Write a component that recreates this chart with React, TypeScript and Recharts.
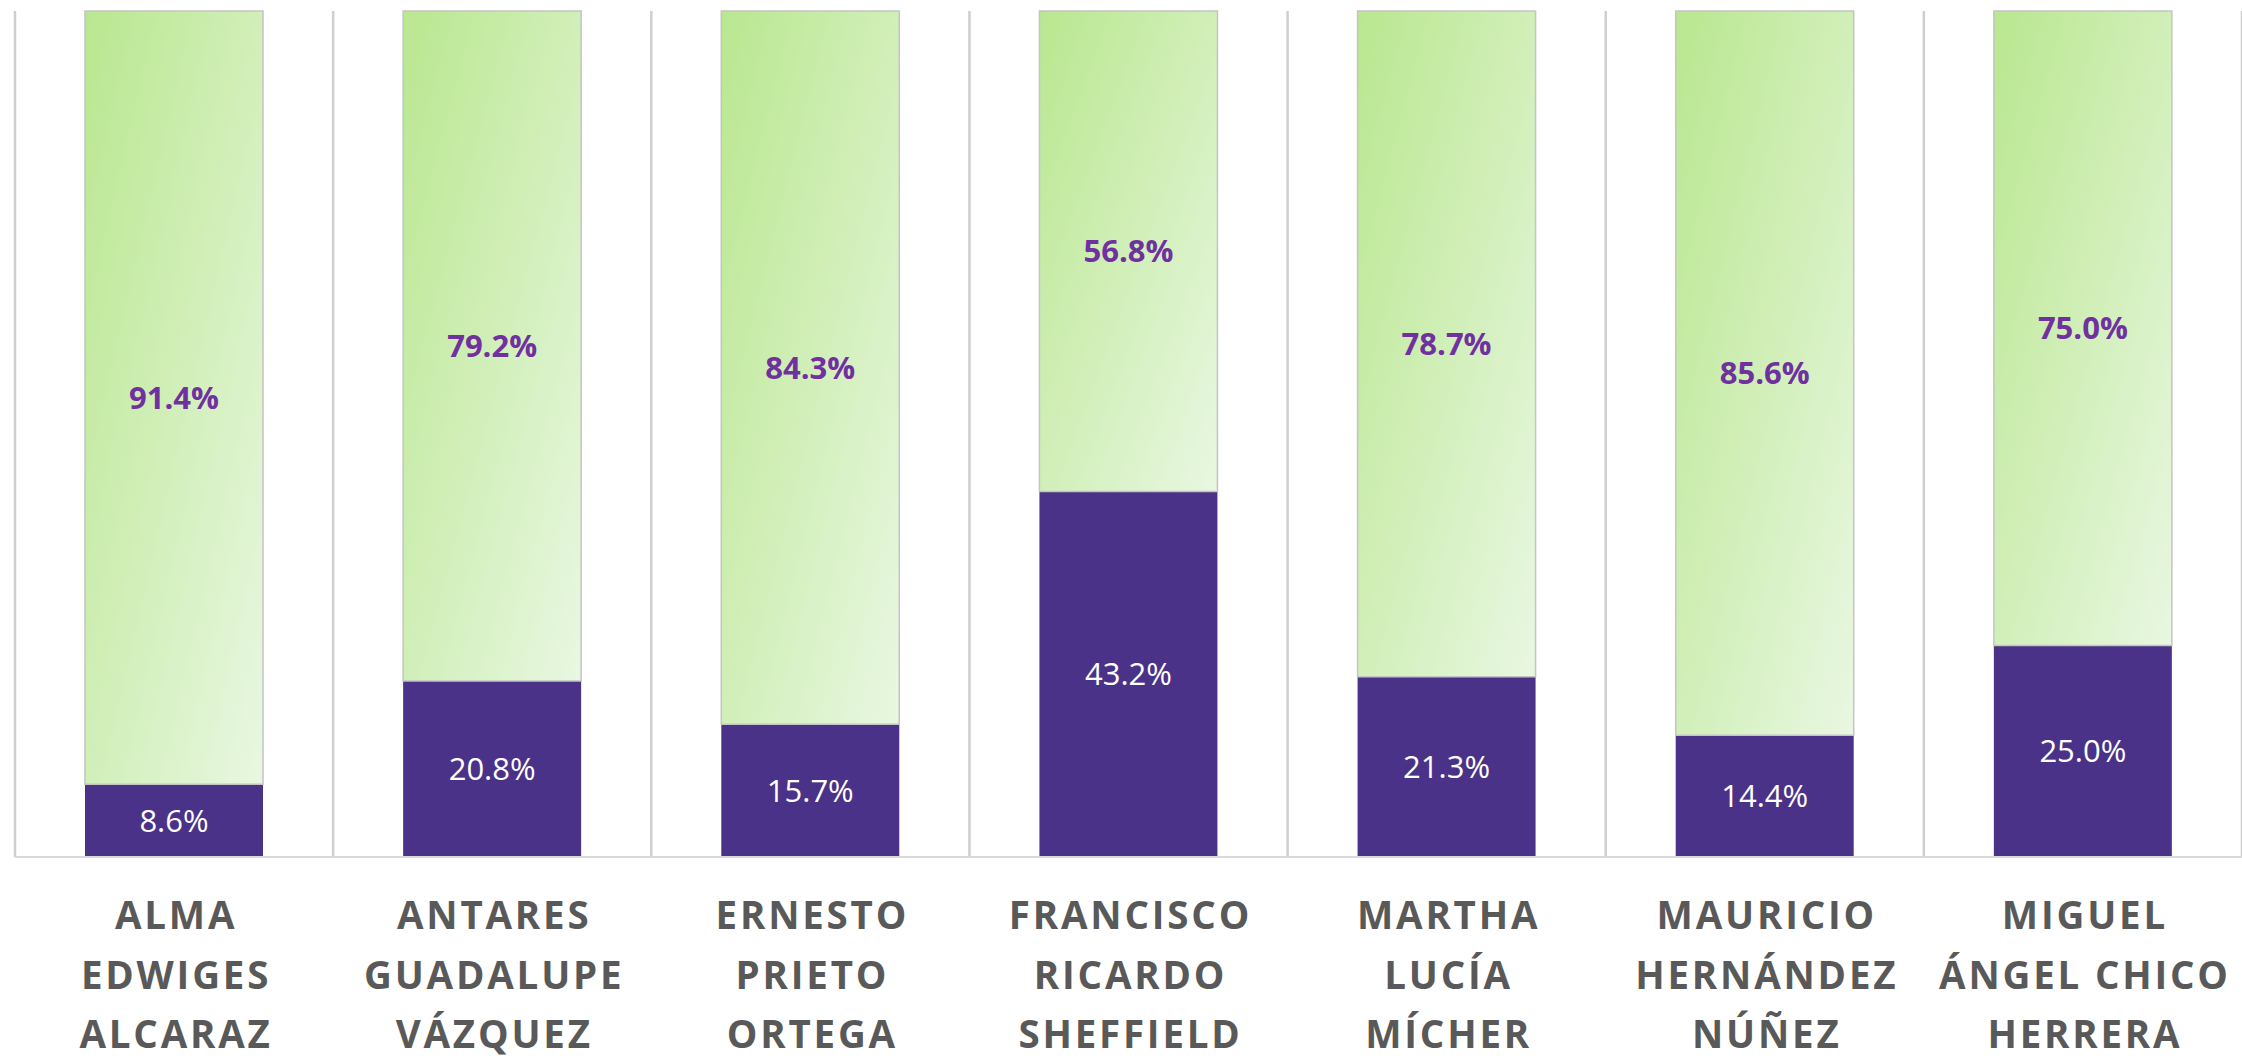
import { BarChart, Bar, XAxis, YAxis, CartesianGrid, LabelList } from 'recharts'

const nombres = [
  'ALMA\nEDWIGES\nALCARAZ',
  'ANTARES\nGUADALUPE\nVÁZQUEZ',
  'ERNESTO\nPRIETO\nORTEGA',
  'FRANCISCO\nRICARDO\nSHEFFIELD',
  'MARTHA\nLUCÍA\nMÍCHER',
  'MAURICIO\nHERNÁNDEZ\nNÚÑEZ',
  'MIGUEL\nÁNGEL CHICO\nHERRERA',
]
const avance = [8.6, 20.8, 15.7, 43.2, 21.3, 14.4, 25.0]
const pendiente = [91.4, 79.2, 84.3, 56.8, 78.7, 85.6, 75.0]

const data = nombres.map((n, i) => ({ nombre: n, avance: avance[i], pendiente: pendiente[i] }))

const fmtPct = (v: any) => `${Number(v).toFixed(1)}%`

const NameTick = ({ x, y, payload }: any) => {
  const lines = String(payload.value).split('\n')
  return (
    <text
      x={x}
      y={y}
      textAnchor="middle"
      fill="#595959"
      fontFamily="Open Sans"
      fontWeight={700}
      fontSize={38.5}
      letterSpacing={2.8}
    >
      {lines.map((l, i) => (
        <tspan key={i} x={x + 2} y={y + 72 + i * 59.5}>
          {l}
        </tspan>
      ))}
    </text>
  )
}

// separators sit between the categories, not on the ticks
const dividers = ({ offset }: any) =>
  Array.from({ length: nombres.length + 1 }, (_, i) => offset.left + (i * offset.width) / nombres.length)

export default function App() {
  return (
    <div style={{ width: 2242, height: 1056, background: '#fff' }}>
      <style>{'body{margin:0}'}</style>
      <BarChart
        width={2242}
        height={1056}
        data={data}
        margin={{ top: 11, right: 0, left: 15, bottom: 0 }}
        barSize={178}
      >
        <defs>
          <linearGradient id="verde" x1="0" y1="0" x2="1" y2="1">
            <stop offset="0%" stopColor="#B9E78F" />
            <stop offset="100%" stopColor="#E9F7E2" />
          </linearGradient>
        </defs>
        <CartesianGrid
          horizontal={false}
          stroke="#CFCFCF"
          strokeWidth={2.5}
          verticalCoordinatesGenerator={dividers}
        />
        <XAxis
          dataKey="nombre"
          interval={0}
          height={199}
          tickLine={false}
          tickSize={0}
          tickMargin={0}
          axisLine={{ stroke: '#D9D9D9', strokeWidth: 2 }}
          tick={<NameTick />}
        />
        <YAxis hide domain={[0, 100]} />
        <Bar dataKey="avance" stackId="a" fill="#4A3289" isAnimationActive={false}>
          <LabelList
            dataKey="avance"
            position="center"
            formatter={fmtPct}
            fill="#FFFFFF"
            fontFamily="Open Sans"
            fontSize={31}
          />
        </Bar>
        <Bar dataKey="pendiente" stackId="a" fill="url(#verde)" stroke="#C4C4C4" strokeWidth={1.5} isAnimationActive={false}>
          <LabelList
            dataKey="pendiente"
            position="center"
            formatter={fmtPct}
            fill="#7030A0"
            fontFamily="Open Sans"
            fontWeight={700}
            fontSize={31}
          />
        </Bar>
      </BarChart>
    </div>
  )
}
